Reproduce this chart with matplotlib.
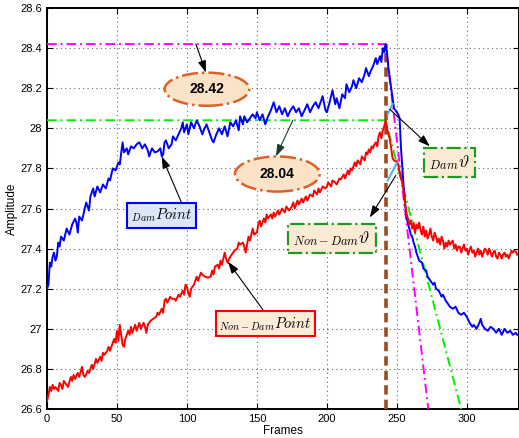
import numpy as np
import matplotlib
matplotlib.use("Agg")
import matplotlib.pyplot as plt
from matplotlib.patches import Ellipse

plt.rcParams["font.family"] = ["Liberation Sans", "DejaVu Sans"]
plt.rcParams["mathtext.fontset"] = "cm"

# amplitude at the damaged point
dam_frames = [0, 1, 2, 3, 4, 5, 6, 7, 8, 9, 10, 12, 14, 16, 18, 20, 21, 22, 23, 25,
              27, 28, 30, 31, 33, 34, 36, 38, 40, 42, 44, 45, 47, 49, 51, 52, 54, 55, 57, 58,
              60, 62, 64, 66, 68, 70, 72, 73, 75, 77, 79, 81, 82, 83, 84, 85, 87, 89, 90, 92,
              94, 96, 97, 98, 100, 101, 103, 105, 107, 109, 111, 112, 114, 116, 118, 119, 121, 123, 125, 127,
              129, 131, 133, 135, 137, 138, 140, 141, 143, 145, 147, 149, 150, 152, 154, 156, 158, 160, 162, 164,
              166, 168, 170, 172, 174, 176, 178, 180, 182, 184, 186, 188, 190, 192, 194, 196, 197, 199, 200, 202,
              204, 206, 207, 209, 211, 213, 214, 216, 218, 219, 221, 223, 225, 227, 228, 230, 231, 233, 235, 236,
              238, 239, 240, 241, 242, 243, 244, 246, 247, 248, 249, 250, 251, 252, 253, 254, 255, 256, 257, 258,
              259, 260, 261, 262, 263, 264, 265, 266, 268, 269, 271, 272, 274, 276, 277, 278, 280, 282, 283, 285,
              287, 288, 290, 292, 294, 296, 298, 300, 302, 304, 305, 307, 309, 310, 311, 313, 315, 317, 319, 321,
              323, 325, 327, 329, 331, 333, 335, 336]
dam_amp = [27.20, 27.22, 27.33, 27.31, 27.36, 27.38, 27.34, 27.36, 27.43, 27.41, 27.46, 27.44, 27.50, 27.47, 27.52, 27.55, 27.53, 27.48, 27.56, 27.54,
           27.60, 27.63, 27.59, 27.66, 27.70, 27.66, 27.71, 27.68, 27.72, 27.70, 27.75, 27.74, 27.80, 27.79, 27.83, 27.82, 27.93, 27.88, 27.90, 27.87,
           27.91, 27.90, 27.92, 27.93, 27.90, 27.92, 27.89, 27.86, 27.90, 27.88, 27.885, 27.90, 27.86, 27.87, 27.93, 27.94, 27.90, 27.92, 27.96, 27.94,
           27.97, 28.00, 28.03, 27.98, 28.02, 27.97, 28.03, 28.00, 28.04, 28.01, 27.97, 27.99, 28.02, 27.98, 27.94, 27.93, 27.97, 28.00, 27.97, 28.01,
           27.96, 28.03, 28.01, 28.04, 27.99, 28.06, 28.02, 28.06, 28.03, 28.05, 28.07, 28.05, 28.08, 28.04, 28.07, 28.02, 28.06, 28.09, 28.13, 28.08,
           28.11, 28.07, 28.10, 28.06, 28.09, 28.11, 28.08, 28.10, 28.06, 28.09, 28.12, 28.08, 28.11, 28.13, 28.10, 28.14, 28.16, 28.09, 28.08, 28.13,
           28.19, 28.12, 28.15, 28.10, 28.17, 28.15, 28.22, 28.18, 28.21, 28.24, 28.20, 28.25, 28.23, 28.27, 28.30, 28.26, 28.28, 28.31, 28.35, 28.32,
           28.36, 28.33, 28.40, 28.38, 28.42, 28.38, 28.30, 28.20, 28.15, 28.10, 28.09, 28.08, 28.07, 28.05, 27.90, 27.80, 27.70, 27.62, 27.56, 27.52,
           27.50, 27.47, 27.46, 27.43, 27.41, 27.38, 27.36, 27.34, 27.33, 27.30, 27.29, 27.26, 27.24, 27.22, 27.23, 27.20, 27.19, 27.16, 27.17, 27.14,
           27.12, 27.11, 27.10, 27.11, 27.08, 27.07, 27.08, 27.06, 27.03, 27.01, 27.02, 27.00, 27.03, 27.05, 27.02, 27.00, 26.99, 27.01, 27.00, 26.98,
           27.00, 26.97, 27.00, 26.98, 26.99, 26.97, 26.98, 26.97]

# amplitude at the undamaged point
nondam_frames = [0, 1, 2, 3, 4, 5, 6, 8, 9, 10, 11, 12, 14, 15, 17, 18, 19, 20, 22, 23,
                 25, 26, 27, 29, 30, 32, 33, 35, 36, 38, 39, 40, 41, 43, 44, 45, 47, 48, 49, 50,
                 51, 52, 53, 54, 55, 56, 58, 59, 60, 61, 63, 64, 66, 67, 69, 70, 71, 72, 74, 76,
                 78, 79, 80, 82, 83, 84, 85, 86, 88, 89, 91, 92, 94, 95, 97, 98, 99, 100, 101, 102,
                 103, 105, 106, 107, 108, 110, 111, 113, 115, 117, 118, 119, 120, 122, 123, 124, 125, 127, 128, 129,
                 131, 132, 134, 136, 137, 138, 140, 141, 142, 143, 144, 145, 147, 148, 150, 151, 152, 153, 155, 156,
                 157, 158, 160, 161, 162, 163, 165, 166, 168, 170, 171, 173, 175, 176, 177, 179, 180, 182, 183, 185,
                 186, 188, 190, 191, 193, 194, 195, 197, 199, 200, 201, 203, 204, 206, 207, 209, 210, 212, 213, 215,
                 216, 217, 218, 220, 221, 222, 224, 225, 227, 228, 229, 230, 231, 232, 233, 234, 235, 236, 237, 238,
                 239, 240, 241, 242, 243, 244, 245, 246, 247, 248, 249, 250, 251, 252, 253, 254, 255, 256, 257, 258,
                 259, 260, 261, 262, 263, 264, 265, 266, 267, 268, 269, 270, 271, 272, 273, 274, 275, 276, 277, 278,
                 279, 280, 281, 282, 283, 284, 285, 286, 287, 288, 290, 291, 292, 293, 294, 295, 296, 297, 298, 299,
                 300, 301, 302, 303, 304, 305, 306, 307, 308, 309, 310, 311, 312, 313, 314, 315, 316, 317, 318, 319,
                 320, 321, 322, 323, 324, 325, 326, 327, 328, 329, 330, 331, 332, 333, 334, 335, 336]
nondam_amp = [26.64, 26.67, 26.71, 26.69, 26.72, 26.70, 26.71, 26.69, 26.73, 26.72, 26.70, 26.74, 26.72, 26.71, 26.76, 26.74, 26.77, 26.75, 26.78, 26.76,
              26.81, 26.77, 26.76, 26.79, 26.78, 26.82, 26.80, 26.85, 26.83, 26.86, 26.84, 26.88, 26.87, 26.89, 26.91, 26.89, 26.93, 26.95, 26.93, 26.99,
              26.94, 27.02, 26.97, 26.92, 26.91, 26.95, 26.99, 26.97, 27.01, 26.98, 27.02, 26.99, 27.03, 27.00, 27.03, 27.01, 26.98, 27.02, 27.04, 27.05,
              27.06, 27.08, 27.07, 27.10, 27.08, 27.14, 27.15, 27.13, 27.16, 27.15, 27.15, 27.14, 27.17, 27.16, 27.19, 27.17, 27.22, 27.21, 27.18, 27.16,
              27.20, 27.22, 27.24, 27.26, 27.24, 27.28, 27.27, 27.26, 27.255, 27.26, 27.29, 27.27, 27.31, 27.32, 27.30, 27.34, 27.32, 27.38, 27.35, 27.33,
              27.36, 27.37, 27.39, 27.40, 27.43, 27.42, 27.43, 27.41, 27.38, 27.42, 27.46, 27.44, 27.50, 27.47, 27.48, 27.52, 27.54, 27.51, 27.55, 27.53,
              27.57, 27.55, 27.57, 27.55, 27.58, 27.56, 27.59, 27.57, 27.60, 27.58, 27.61, 27.59, 27.61, 27.63, 27.60, 27.64, 27.62, 27.65, 27.63, 27.66,
              27.64, 27.67, 27.66, 27.69, 27.67, 27.70, 27.68, 27.71, 27.70, 27.71, 27.73, 27.71, 27.74, 27.73, 27.72, 27.75, 27.745, 27.77, 27.75, 27.79,
              27.77, 27.80, 27.79, 27.83, 27.81, 27.84, 27.82, 27.86, 27.84, 27.88, 27.87, 27.895, 27.88, 27.91, 27.90, 27.92, 27.93, 27.91, 27.96, 27.98,
              27.95, 27.99, 28.01, 28.04, 28.00, 27.97, 27.945, 27.90, 27.85, 27.84, 27.835, 27.835, 27.82, 27.78, 27.75, 27.73, 27.68, 27.62, 27.57, 27.55,
              27.52, 27.54, 27.50, 27.53, 27.48, 27.52, 27.50, 27.53, 27.49, 27.47, 27.51, 27.46, 27.49, 27.45, 27.47, 27.50, 27.46, 27.44, 27.48, 27.46,
              27.43, 27.45, 27.42, 27.46, 27.44, 27.40, 27.43, 27.41, 27.44, 27.42, 27.44, 27.40, 27.42, 27.39, 27.41, 27.41, 27.38, 27.40, 27.42, 27.39,
              27.40, 27.37, 27.395, 27.41, 27.38, 27.39, 27.36, 27.38, 27.40, 27.37, 27.39, 27.36, 27.38, 27.40, 27.39, 27.37, 27.40, 27.38, 27.36, 27.38,
              27.39, 27.36, 27.35, 27.38, 27.37, 27.35, 27.37, 27.38, 27.36, 27.37, 27.35, 27.37, 27.39, 27.38, 27.39, 27.385, 27.37]

# frames at which the fall-off lines reach the bottom of the axis
dam_fall_end = 272.5
nondam_fall_end = 296.0

x_ticks = [0, 50, 100, 150, 200, 250, 300]
y_ticks = [26.6, 26.8, 27, 27.2, 27.4, 27.6, 27.8, 28, 28.2, 28.4, 28.6]

dam_peak = max(dam_amp)
nondam_peak = max(nondam_amp)
peak_frame = dam_frames[dam_amp.index(dam_peak)]
y_low = y_ticks[0]

fig = plt.figure(figsize=(5.19, 4.38), dpi=100)
ax = fig.add_axes([0.0906, 0.0662, 0.9085, 0.9155])

ax.plot(dam_frames, dam_amp, color="#0000ff", lw=1.4, zorder=4)
ax.plot(nondam_frames, nondam_amp, color="#ff0000", lw=1.4, zorder=4)

# peak levels and the fall-off lines after the peak
dashdot = (0, (5, 2, 1, 2))
ax.plot([0, peak_frame, dam_fall_end], [dam_peak, dam_peak, y_low],
        color="#ff00ff", ls=dashdot, lw=1.4, zorder=3)
ax.plot([0, peak_frame, nondam_fall_end], [nondam_peak, nondam_peak, y_low],
        color="#00ee00", ls=dashdot, lw=1.4, zorder=3)
ax.plot([peak_frame, peak_frame], [y_low, dam_peak], color="#9c4a22",
        ls=(0, (2.6, 1.4)), lw=2.6, zorder=3)

# small angle marks between the vertical and the fall-off lines
def on_line(f, peak, end):
    return peak + (y_low - peak) * (f - peak_frame) / (end - peak_frame)

ax.plot([peak_frame + 1.5, 247], [28.07, on_line(247, dam_peak, dam_fall_end)],
        color="#4db3ea", lw=1.5, zorder=5)
ax.plot([peak_frame + 1.5, 250], [27.74, on_line(250, nondam_peak, nondam_fall_end)],
        color="#4db3ea", lw=1.5, zorder=5)

arrow = dict(arrowstyle="-|>,head_length=0.65,head_width=0.22", color="black",
             lw=0.8, mutation_scale=11, shrinkA=0, shrinkB=0)

# peak value callouts
for (cx, cy, h), val, tail, head, acol in [
        ((114.3, 28.195, 0.165), dam_peak, (106.4, dam_peak), (113.6, 28.278), "black"),
        ((164.6, 27.772, 0.175), nondam_peak, (175.7, nondam_peak), (163.6, 27.86), "#1d3a2a")]:
    ax.add_patch(Ellipse((cx, cy), 60.5, h, fc="#fbe3c8", ec="#d9622b", ls="-.",
                         lw=1.8, zorder=6))
    ax.text(cx, cy, f"{val:.2f}", ha="center", va="center", fontsize=10,
            fontweight="bold", zorder=7)
    ax.annotate("", xy=head, xytext=tail, arrowprops=dict(arrow, color=acol), zorder=6)

# curve labels
ax.text(81.8, 27.565, r"${}_{Dam}Point$", fontsize=10.5, ha="center", va="center",
        bbox=dict(boxstyle="square,pad=0.25", fc="#dbe7f8", ec="#0000ff", lw=1.5), zorder=7)
ax.annotate("", xy=(82, 27.86), xytext=(96.4, 27.625), arrowprops=arrow, zorder=6)

ax.text(156.1, 27.025, r"${}_{Non-Dam}Point$", fontsize=10.5, ha="center", va="center",
        bbox=dict(boxstyle="square,pad=0.25", fc="#fdecd8", ec="#ff0000", lw=1.5), zorder=7)
ax.annotate("", xy=(129.3, 27.335), xytext=(154.3, 27.095), arrowprops=arrow, zorder=6)

ax.text(287.9, 27.83, r"${}_{Dam}\vartheta$", fontsize=12.5, ha="center", va="center",
        bbox=dict(boxstyle="square,pad=0.3", fc="#fbebd4", ec="#1e9a1e", ls="-.", lw=1.6), zorder=7)
ax.annotate("", xy=(273.6, 27.91), xytext=(245, 28.095), arrowprops=arrow, zorder=6)

ax.text(203.6, 27.45, r"${}_{Non-Dam}\vartheta$", fontsize=12.5, ha="center", va="center",
        bbox=dict(boxstyle="square,pad=0.3", fc="#fbebd4", ec="#1e9a1e", ls="-.", lw=1.6), zorder=7)
ax.annotate("", xy=(230.7, 27.555), xytext=(249.3, 27.765), arrowprops=arrow, zorder=6)

ax.set_xlim(0, 337)
ax.set_ylim(y_low, y_ticks[-1])
ax.set_xticks(x_ticks)
ax.set_yticks(y_ticks)
ax.set_yticklabels([f"{v:g}" for v in y_ticks])
ax.tick_params(direction="in", length=4, width=0.8, labelsize=8, top=True, right=True)
ax.grid(True, ls=(0, (1, 3)), color="0.4", lw=0.8)
for s in ax.spines.values():
    s.set_linewidth(1.4)
ax.set_xlabel("Frames", fontsize=8.5, labelpad=1)
ax.set_ylabel("Amplitude", fontsize=8.5, labelpad=2)

fig.savefig("out.png", dpi=100)
